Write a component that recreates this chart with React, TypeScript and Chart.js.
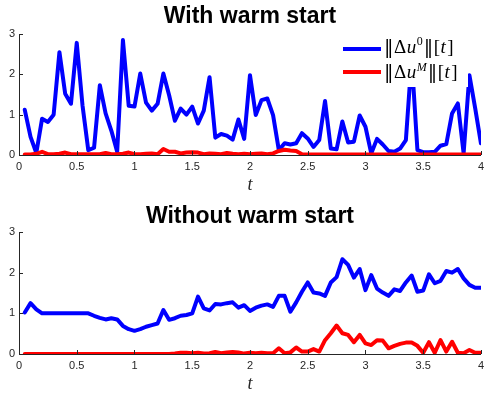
import React, { useEffect, useRef } from 'react';
import { Chart, registerables } from 'chart.js';

Chart.register(...registerables);

const TIME = [
  0.05, 0.1, 0.15, 0.2, 0.25, 0.3, 0.35, 0.4, 0.45, 0.5,
  0.55, 0.6, 0.65, 0.7, 0.75, 0.8, 0.85, 0.9, 0.95, 1.0,
  1.05, 1.1, 1.15, 1.2, 1.25, 1.3, 1.35, 1.4, 1.45, 1.5,
  1.55, 1.6, 1.65, 1.7, 1.75, 1.8, 1.85, 1.9, 1.95, 2.0,
  2.05, 2.1, 2.15, 2.2, 2.25, 2.3, 2.35, 2.4, 2.45, 2.5,
  2.55, 2.6, 2.65, 2.7, 2.75, 2.8, 2.85, 2.9, 2.95, 3.0,
  3.05, 3.1, 3.15, 3.2, 3.25, 3.3, 3.35, 3.4, 3.45, 3.5,
  3.55, 3.6, 3.65, 3.7, 3.75, 3.8, 3.85, 3.9, 3.95, 4.0,
];

const WARM_U0 = [
  1.12, 0.45, 0.05, 0.9, 0.82, 1.0, 2.55, 1.52, 1.27, 2.78,
  1.23, 0.12, 0.18, 1.73, 1.03, 0.6, 0.08, 2.85, 1.22, 1.2,
  2.02, 1.3, 1.1, 1.27, 2.02, 1.48, 0.85, 1.15, 1.0, 1.2,
  0.78, 1.1, 1.93, 0.43, 0.52, 0.48, 0.38, 0.88, 0.4, 1.98,
  0.99, 1.36, 1.4, 0.99, 0.12, 0.29, 0.26, 0.29, 0.54, 0.41,
  0.2, 0.37, 1.34, 0.16, 0.14, 0.83, 0.31, 0.33, 0.98, 0.7,
  0.04, 0.4, 0.26, 0.1, 0.08, 0.16, 0.37, 2.4, 0.12, 0.07,
  0.07, 0.08, 0.23, 0.27, 1.03, 1.28, 0.04, 1.98, 1.16, 0.29,
];

const WARM_UM = [
  0.01, 0.01, 0.03, 0.08, 0.02, 0.02, 0.03, 0.06, 0.02, 0.02,
  0.02, 0.02, 0.02, 0.02, 0.05, 0.02, 0.02, 0.03, 0.06, 0.02,
  0.02, 0.03, 0.04, 0.02, 0.15, 0.08, 0.08, 0.04, 0.06, 0.07,
  0.06, 0.02, 0.04, 0.03, 0.02, 0.05, 0.03, 0.02, 0.03, 0.02,
  0.03, 0.04, 0.02, 0.04, 0.1, 0.13, 0.11, 0.1, 0.02, 0.01,
  0.01, 0.01, 0.01, 0.01, 0.01, 0.01, 0.01, 0.01, 0.01, 0.01,
  0.01, 0.01, 0.01, 0.01, 0.01, 0.01, 0.01, 0.01, 0.01, 0.01,
  0.01, 0.01, 0.01, 0.01, 0.01, 0.01, 0.01, 0.01, 0.01, 0.01,
];

const COLD_U0 = [
  1.02, 1.25, 1.1, 1.0, 1.0, 1.0, 1.0, 1.0, 1.0, 1.0,
  1.0, 1.0, 0.94, 0.89, 0.85, 0.88, 0.85, 0.69, 0.61, 0.57,
  0.61, 0.67, 0.71, 0.75, 1.08, 0.84, 0.88, 0.94, 0.96, 1.0,
  1.41, 1.12, 1.07, 1.23, 1.22, 1.25, 1.27, 1.14, 1.2, 1.06,
  1.14, 1.19, 1.22, 1.16, 1.43, 1.43, 1.04, 1.27, 1.53, 1.76,
  1.51, 1.49, 1.43, 1.76, 1.89, 2.33, 2.19, 1.88, 2.09, 1.57,
  1.94, 1.61, 1.51, 1.43, 1.59, 1.55, 1.76, 1.93, 1.53, 1.56,
  1.96, 1.74, 1.8, 2.04, 2.0, 2.09, 1.86, 1.7, 1.63, 1.63,
];

const COLD_UM = [
  0, 0, 0, 0, 0, 0, 0, 0, 0, 0,
  0, 0, 0, 0, 0, 0, 0, 0, 0, 0,
  0, 0, 0, 0, 0, 0, 0.01, 0.03, 0.03, 0.02,
  0.03, 0.01, 0.02, 0.05, 0.02, 0.04, 0.05, 0.04, 0.01, 0.03,
  0.02, 0.03, 0.02, 0.02, 0.14, 0.02, 0.04, 0.16, 0.06, 0.06,
  0.12, 0.06, 0.34, 0.51, 0.7, 0.51, 0.47, 0.29, 0.47, 0.26,
  0.22, 0.34, 0.33, 0.14, 0.2, 0.25, 0.28, 0.28, 0.2, 0.03,
  0.29, 0.03, 0.34, 0.06, 0.3, 0.03, 0.02, 0.1, 0.03, 0.03,
];

const X_TICK_LABELS = ['0', '0.5', '1', '1.5', '2', '2.5', '3', '3.5', '4'];
const Y_TICK_LABELS = ['0', '1', '2', '3'];
const TITLES = ['With warm start', 'Without warm start'];
const X_LABEL = 't';

const AXIS_COLOR = '#262626';
const TICK_FONT = { family: '"Liberation Sans", Arial, Helvetica, sans-serif', size: 11 };

function drawMathLabel(ctx: CanvasRenderingContext2D, x: number, baseline: number, sup: string) {
  const fam = '"Liberation Serif", "DejaVu Serif", serif';
  const base = `19px ${fam}`;
  const bars = `19px "DejaVu Serif", serif`;
  const ital = `italic 19px ${fam}`;
  const small = sup === '0' ? `12px ${fam}` : `italic 12px ${fam}`;
  const parts: { t: string; f: string; dy?: number; gap?: number }[] = [
    { t: '\u2016', f: bars, gap: 0.5 },
    { t: '\u0394', f: base, gap: 0.5 },
    { t: 'u', f: ital, gap: 0.5 },
    { t: sup, f: small, dy: sup === '0' ? -8.5 : -7, gap: 1 },
    { t: '\u2016', f: bars, gap: 0.5 },
    { t: '[', f: base, gap: 0.5 },
    { t: 't', f: ital, gap: 1.5 },
    { t: ']', f: base },
  ];
  let cx = x;
  ctx.fillStyle = '#000';
  ctx.textBaseline = 'alphabetic';
  ctx.textAlign = 'left';
  for (const p of parts) {
    ctx.font = p.f;
    ctx.fillText(p.t, cx, baseline + (p.dy || 0));
    cx += ctx.measureText(p.t).width + (p.gap || 0);
  }
}

type PanelProps = {
  title: string;
  u0: number[];
  um: number[];
  height: number;
  areaTop: number;
  areaBottom: number;
  titleBaseline: number;
  showLegend: boolean;
};

function Panel({ title, u0, um, height, areaTop, areaBottom, titleBaseline, showLegend }: PanelProps) {
  const ref = useRef<HTMLCanvasElement | null>(null);

  useEffect(() => {
    const canvas = ref.current;
    if (!canvas) return;

    const decor = {
      id: 'decor',
      afterDatasetsDraw(chart: any) {
        const { ctx, chartArea, scales } = chart;
        ctx.save();
        // inward tick marks
        ctx.strokeStyle = AXIS_COLOR;
        ctx.lineWidth = 1;
        const xs = scales.x;
        const ys = scales.y;
        xs.ticks.forEach((t: any) => {
          const px = Math.round(xs.getPixelForValue(t.value)) + 0.5;
          ctx.beginPath();
          ctx.moveTo(px, chartArea.bottom);
          ctx.lineTo(px, chartArea.bottom - 4);
          ctx.stroke();
        });
        ys.ticks.forEach((t: any) => {
          const py = Math.round(ys.getPixelForValue(t.value)) + 0.5;
          ctx.beginPath();
          ctx.moveTo(chartArea.left, py);
          ctx.lineTo(chartArea.left + 4, py);
          ctx.stroke();
        });

        // title
        const cx = (chartArea.left + chartArea.right) / 2;
        ctx.fillStyle = '#000';
        ctx.textAlign = 'center';
        ctx.textBaseline = 'alphabetic';
        ctx.font = 'bold 23px "Liberation Sans", Arial, Helvetica, sans-serif';
        ctx.fillText(title, cx, titleBaseline);

        // x label
        ctx.font = 'italic 18px "Liberation Serif", "DejaVu Serif", serif';
        ctx.fillStyle = '#262626';
        ctx.fillText(X_LABEL, cx, chartArea.bottom + 35);

        if (showLegend) {
          const metas = chart.data.datasets;
          ctx.fillStyle = '#fff';
          ctx.fillRect(335, 36, 133, 51);
          const rows = [
            { y: 49, base: 53, color: metas[1].borderColor, sup: '0' },
            { y: 72, base: 77.5, color: metas[0].borderColor, sup: 'M' },
          ];
          rows.forEach((r) => {
            ctx.strokeStyle = r.color;
            ctx.lineWidth = 4;
            ctx.beginPath();
            ctx.moveTo(343, r.y);
            ctx.lineTo(381, r.y);
            ctx.stroke();
            drawMathLabel(ctx, 384, r.base, r.sup);
          });
        }
        ctx.restore();
      },
    };

    const chart = new Chart(canvas, {
      type: 'line',
      data: {
        datasets: [
          {
            label: '||\u0394u^M||[t]',
            data: TIME.map((t, i) => ({ x: t, y: um[i] })),
            borderColor: '#ff0000',
            borderWidth: 4,
            pointRadius: 0,
            order: 0,
          },
          {
            label: '||\u0394u^0||[t]',
            data: TIME.map((t, i) => ({ x: t, y: u0[i] })),
            borderColor: '#0000ff',
            borderWidth: 4,
            pointRadius: 0,
            order: 1,
          },
        ],
      },
      options: {
        animation: false,
        responsive: false,
        devicePixelRatio: 1,
        layout: { padding: { top: areaTop, right: 3, left: 0, bottom: 0 }, autoPadding: false },
        plugins: { legend: { display: false }, title: { display: false }, tooltip: { enabled: false } },
        elements: { line: { tension: 0, borderJoinStyle: 'round', borderCapStyle: 'round' } },
        scales: {
          x: {
            type: 'linear',
            min: 0,
            max: 4,
            grid: { display: false, drawTicks: false },
            border: { display: true, color: AXIS_COLOR, width: 1 },
            ticks: {
              stepSize: 0.5,
              autoSkip: false,
              maxRotation: 0,
              padding: 5,
              color: AXIS_COLOR,
              font: TICK_FONT,
              callback: (_v: any, i: number) => X_TICK_LABELS[i],
            },
            afterFit: (s: any) => {
              s.height = height - areaBottom;
            },
          },
          y: {
            type: 'linear',
            min: 0,
            max: 3,
            grid: { display: false, drawTicks: false },
            border: { display: true, color: AXIS_COLOR, width: 1 },
            ticks: {
              stepSize: 1,
              padding: 4,
              color: AXIS_COLOR,
              font: TICK_FONT,
              callback: (_v: any, i: number) => Y_TICK_LABELS[i],
            },
            afterFit: (s: any) => {
              s.width = 19;
            },
          },
        },
      },
      plugins: [decor],
    } as any);

    return () => chart.destroy();
  }, [title, u0, um, height, areaTop, areaBottom, titleBaseline, showLegend]);

  return <canvas ref={ref} width={489} height={height} style={{ display: 'block', width: 489, height }} />;
}

export default function App() {
  return (
    <div style={{ position: 'absolute', left: 0, top: 0, width: 489, height: 399, background: '#fff' }}>
      <Panel title={TITLES[0]} u0={WARM_U0} um={WARM_UM} height={200} areaTop={34} areaBottom={155} titleBaseline={22.5} showLegend={true} />
      <Panel title={TITLES[1]} u0={COLD_U0} um={COLD_UM} height={199} areaTop={32} areaBottom={154} titleBaseline={23} showLegend={false} />
    </div>
  );
}
